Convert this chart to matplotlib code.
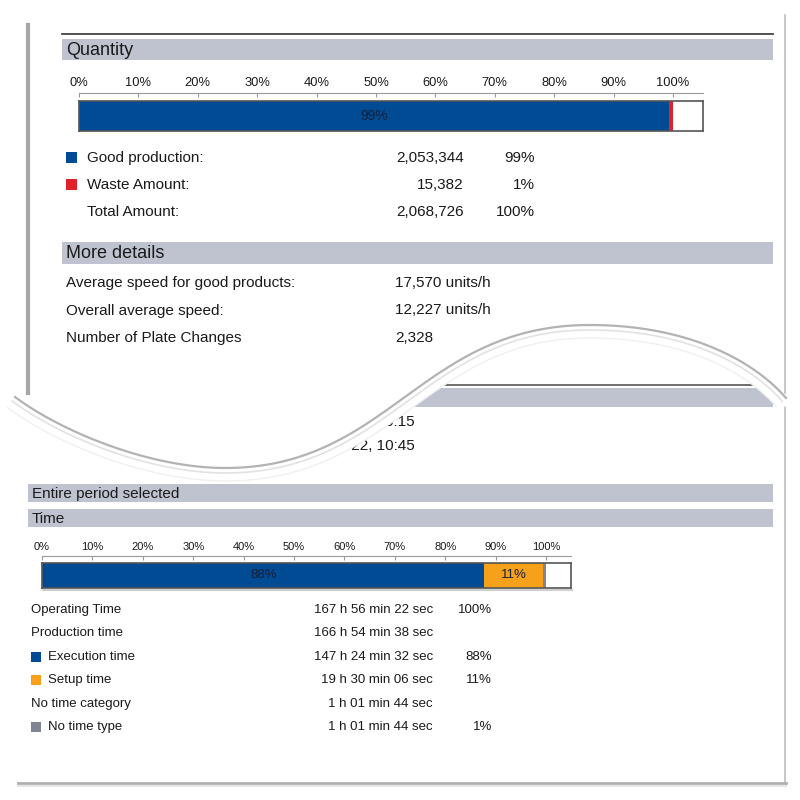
import numpy as np
import matplotlib
matplotlib.use('Agg')
import matplotlib.pyplot as plt
from matplotlib.patches import Rectangle, Polygon

plt.rcParams['font.family'] = ['Liberation Sans', 'DejaVu Sans']

W, H = 800, 800
BLUE = '#004b93'
RED = '#e2202b'
ORANGE = '#f7a11a'
GREY_SEG = '#80868f'
BAND = '#bec3cf'
TXT = '#1a1a1a'

# --- quantity block ---
qty_labels = ['Good production:', 'Waste Amount:', 'Total Amount:']
qty_values = [2053344, 15382, 2068726]
qty_colors = [BLUE, RED, None]

detail_labels = ['Average speed for good products:', 'Overall average speed:',
                 'Number of Plate Changes']
detail_values = [17570, 12227, 2328]
detail_units = [' units/h', ' units/h', '']

# --- time block (seconds) ---
time_labels = ['Operating Time', 'Production time', 'Execution time',
               'Setup time', 'No time category', 'No time type']
time_seconds = [604582, 600878, 530672, 70206, 3704, 3704]
time_colors = [None, None, BLUE, ORANGE, None, GREY_SEG]
time_show_pct = [True, False, True, True, False, True]

# cut-off lines of the second page hidden behind the curl
hidden_lines = ['25.07.2022, 06:15', '01.08.2022, 10:45']


def round_shares(values, total):
    # largest remainder rounding so the shares add up to 100
    raw = np.array(values, dtype=float) / total * 100
    out = np.floor(raw).astype(int)
    rest = raw - out
    for i in np.argsort(-rest)[:100 - out.sum()]:
        out[i] += 1
    return out


def fmt_time(sec):
    h, r = divmod(sec, 3600)
    m, s = divmod(r, 60)
    return f'{h} h {m:02d} min {s:02d} sec'


fig = plt.figure(figsize=(8, 8), dpi=100)
bg = fig.add_axes([0, 0, 1, 1])
bg.set_xlim(0, W)
bg.set_ylim(H, 0)
bg.axis('off')


def px_axes(x0, y0, x1, y1):
    return fig.add_axes([x0 / W, 1 - y1 / H, (x1 - x0) / W, (y1 - y0) / H])


def band(x0, y0, x1, y1, text=None, size=13, z=2):
    bg.add_patch(Rectangle((x0, y0), x1 - x0, y1 - y0, color=BAND, lw=0, zorder=z))
    if text:
        bg.text(x0 + 4, (y0 + y1) / 2 + 1, text, fontsize=size, va='center',
                color=TXT, zorder=z + 0.1)


def stacked_bar(rect, widths, colors, pct, label_fs, tick_fs, gap_px):
    ax = px_axes(*rect)
    lefts = np.concatenate([[0], np.cumsum(widths)[:-1]])
    bars = ax.barh(0, widths, left=lefts, height=1, color=colors, lw=0)
    ax.set_xlim(0, 105)
    ax.set_ylim(-0.5, 0.5)
    ax.bar_label(bars, labels=[f'{p}%' if p >= 5 else '' for p in pct],
                 label_type='center', fontsize=label_fs, color='#16203a')
    for s in ax.spines.values():
        s.set_color('#555555')
        s.set_linewidth(1.2)
    ax.set_xticks([])
    ax.set_yticks([])
    sec = ax.secondary_xaxis(1 + gap_px / (rect[3] - rect[1]))
    ticks = np.arange(0, 101, 10)
    sec.set_xticks(ticks, labels=[f'{t}%' for t in ticks])
    sec.tick_params(direction='in', length=3, width=0.8, color='#9a9a9a',
                    labelsize=tick_fs, pad=3, labelcolor=TXT)
    for s in sec.spines.values():
        s.set_color('#9a9a9a')
    # soft shadow under the bar
    bg.plot([rect[0] + 1, rect[2] + 1], [rect[3] + 1.5, rect[3] + 1.5],
            color='#cfcfcf', lw=1.5, zorder=1)
    return ax


# ================= second (lower) page =================
bg.plot([785, 785], [0, 783], color='#bdbdbd', lw=1.2, zorder=1)
bg.plot([18, 786], [783, 783], color='#b0b0b0', lw=2, zorder=1)
bg.plot([18, 786], [785.5, 785.5], color='#e6e6e6', lw=1.5, zorder=1)

bg.plot([28, 773], [385, 385], color='#555555', lw=1.2, zorder=2)
band(28, 388, 773, 407)
for i, s in enumerate(hidden_lines):
    bg.text(415, 422 + 24.5 * i, s, fontsize=11, ha='right', va='center',
            color=TXT, zorder=2)

band(28, 484, 773, 502, 'Entire period selected', size=11)
band(28, 509, 773, 527, 'Time', size=11)

t_total = time_seconds[0]
t_pct = round_shares([time_seconds[2], time_seconds[3], time_seconds[5]], t_total)
t_widths = np.array([time_seconds[2], time_seconds[3], time_seconds[5]]) / t_total * 100
stacked_bar((42, 563, 42 + 504 * 1.05, 588), t_widths, [BLUE, ORANGE, GREY_SEG],
            t_pct, 9.5, 8, 7)

row_pct = {0: 100, 2: t_pct[0], 3: t_pct[1], 5: t_pct[2]}
for i, lab in enumerate(time_labels):
    y = 610 + 23.4 * i
    x_lab = 31
    if time_colors[i]:
        bg.add_patch(Rectangle((31, y - 5), 10, 10, color=time_colors[i], lw=0, zorder=2))
        x_lab = 48
    bg.text(x_lab, y, lab, fontsize=9.5, va='center', color=TXT, zorder=2)
    bg.text(433, y, fmt_time(time_seconds[i]), fontsize=9.5, ha='right',
            va='center', color=TXT, zorder=2)
    if time_show_pct[i]:
        bg.text(492, y, f'{row_pct[i]}%', fontsize=9.5, ha='right',
                va='center', color=TXT, zorder=2)


# ================= page curl =================
def bezier(p0, p1, p2, p3, n=80):
    t = np.linspace(0, 1, n)[:, None]
    p0, p1, p2, p3 = map(np.array, (p0, p1, p2, p3))
    return (1 - t) ** 3 * p0 + 3 * (1 - t) ** 2 * t * p1 + 3 * (1 - t) * t ** 2 * p2 + t ** 3 * p3


segs = [((15, 397), (62, 432), (150, 468), (225, 468)),
        ((225, 468), (390, 468), (420, 325), (590, 325)),
        ((590, 325), (690, 325), (755, 362), (786, 398))]
curve = np.vstack([bezier(*s) for s in segs])
tang = np.gradient(curve, axis=0)
tang /= np.linalg.norm(tang, axis=1)[:, None]
normal = np.column_stack([-tang[:, 1], tang[:, 0]])
inner = curve + 13 * normal
soft = curve + 5 * normal

cover = np.vstack([[0, inner[0, 1]], inner, [W, inner[-1, 1]], [W, 0], [0, 0]])
bg.add_patch(Polygon(cover, closed=True, color='white', lw=0, zorder=5))
bg.plot(curve[:, 0], curve[:, 1], color='#b3b3b3', lw=1.6, zorder=8)
bg.plot(soft[:, 0], soft[:, 1], color='#e2e2e2', lw=1.2, zorder=8)
bg.plot(inner[:, 0], inner[:, 1], color='#f0f0f0', lw=1, zorder=8)

# ================= first (upper) page =================
bg.plot([28, 28], [25, 393], color='#a6a6a6', lw=3, zorder=6)
bg.plot([785, 785], [15, 393], color='#bdbdbd', lw=1.2, zorder=6)
bg.plot([62, 773], [34, 34], color='#444444', lw=1.3, zorder=6)
band(62, 39, 773, 60, 'Quantity', size=13, z=6)

q_total = qty_values[2]
q_pct = round_shares(qty_values[:2], q_total)
q_widths = np.array(qty_values[:2]) / q_total * 100
qax = stacked_bar((79, 101, 79 + 594 * 1.05, 131), q_widths, [BLUE, RED],
                  q_pct, 10, 9.3, 8)
qax.set_zorder(6)

q_row_pct = list(q_pct) + [100]
for i, lab in enumerate(qty_labels):
    y = 158 + 27 * i
    if qty_colors[i]:
        bg.add_patch(Rectangle((66, y - 6), 11, 11, color=qty_colors[i], lw=0, zorder=6))
    bg.text(87, y, lab, fontsize=11, va='center', color=TXT, zorder=6)
    bg.text(464, y, f'{qty_values[i]:,}', fontsize=11, ha='right', va='center',
            color=TXT, zorder=6)
    bg.text(535, y, f'{q_row_pct[i]}%', fontsize=11, ha='right', va='center',
            color=TXT, zorder=6)

band(62, 242, 773, 264, 'More details', size=13, z=6)
for i, lab in enumerate(detail_labels):
    y = 283 + 27.5 * i
    bg.text(66, y, lab, fontsize=11, va='center', color=TXT, zorder=6)
    bg.text(395, y, f'{detail_values[i]:,}{detail_units[i]}', fontsize=11,
            va='center', color=TXT, zorder=6)

fig.savefig('out.png', dpi=100)
